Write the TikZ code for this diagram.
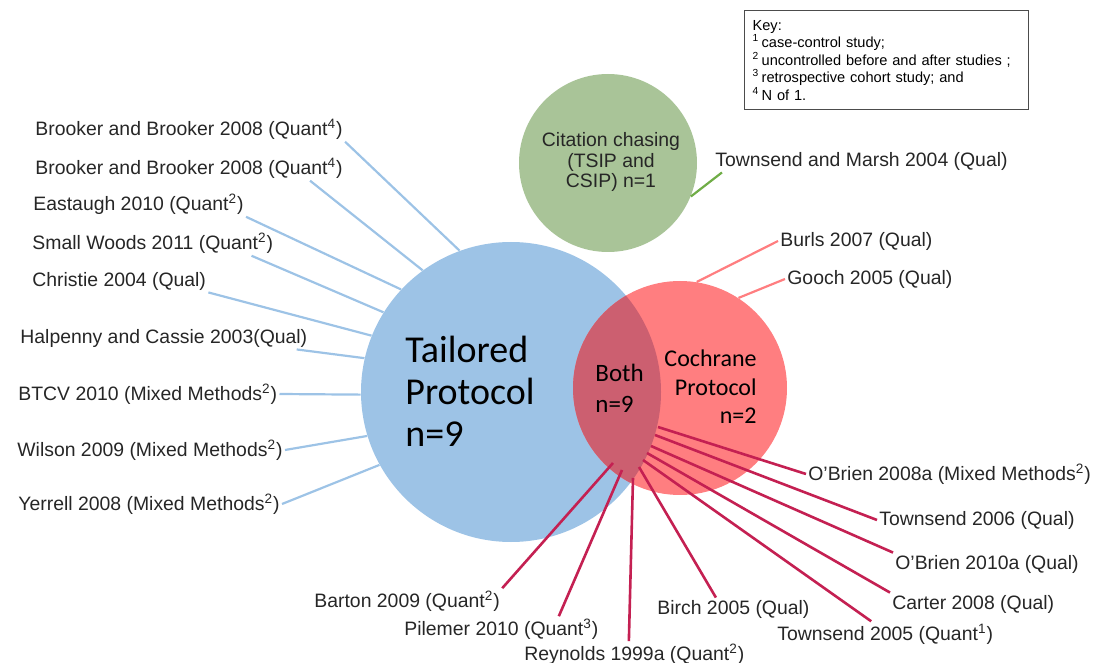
\documentclass[tikz,border=0pt]{standalone}
\usepackage{fontspec}
\setmainfont{Liberation Sans}
\newfontfamily\calibfont{Carlito}
\usepackage{xcolor}

\definecolor{tpblue}{RGB}{157,195,230}
\definecolor{cpred}{RGB}{255,126,128}
\definecolor{bothred}{RGB}{204,95,112}
\definecolor{ccgreen}{RGB}{169,196,152}
\definecolor{linkred}{RGB}{196,32,82}
\definecolor{linkgreen}{RGB}{112,173,71}

\tikzset{
  lbl/.style={inner sep=1pt, text=black!85, font=\fontsize{9.7}{11}\selectfont},
  venn/.style={circle, inner sep=0pt},
  tpline/.style={tpblue, line width=1.1pt},
  cpline/.style={cpred, line width=1.1pt},
  ccline/.style={linkgreen, line width=1.1pt},
  bothline/.style={linkred, line width=1.3pt},
  keybox/.style={draw=black!70, line width=0.6pt, align=left, text width=134pt,
    inner xsep=4pt, minimum height=49.5pt, font=\fontsize{7.3}{8.75}\selectfont}
}
\newcommand{\keysup}[1]{\textsuperscript{#1}\hspace{1.2pt}}

\begin{document}
\begin{tikzpicture}[x=0.5pt,y=-0.5pt]
  \useasboundingbox (0,0) rectangle (1099,663);

  % the three searches
  \node[venn, fill=ccgreen, minimum size=89pt] (cc) at (608,163) {};
  \node[venn, fill=tpblue, minimum size=150pt] (tp) at (511,392) {};
  \node[venn, fill=cpred, minimum size=107pt] (cp) at (680,388) {};
  % overlap: found by both protocols
  \begin{scope}
    \clip (tp.center) circle[radius=75pt];
    \fill[bothred] (cp.center) circle[radius=53.5pt];
  \end{scope}

  \node[align=left, anchor=west, inner sep=0pt, font=\calibfont\fontsize{19}{21}\selectfont] (tptext) at (405,391) {Tailored\\Protocol\\n=9};
  \node[align=left, anchor=west, inner sep=0pt, font=\calibfont\fontsize{12.5}{15.5}\selectfont] (bothtext) at (595,388) {Both\\n=9};
  \node[align=right, anchor=east, inner sep=0pt, font=\calibfont\fontsize{12}{14.3}\selectfont] (cptext) at (757,387) {Cochrane\\Protocol\\n=2};
  \node[lbl, align=center, font=\fontsize{9.7}{10.25}\selectfont] (cctext) at (611,162) {Citation chasing\\(TSIP and\\CSIP) n=1};

  % tailored protocol only
  \foreach \nm/\x/\y/\an/\dx/\ang/\txt in {
    l1/33/129/south east/0/110/{Brooker and Brooker 2008 (Quant\textsuperscript{4})},
    l2/33/168/south east/-17.5/126/{Brooker and Brooker 2008 (Quant\textsuperscript{4})},
    l3/31/204/south east/0/137/{Eastaugh 2010 (Quant\textsuperscript{2})},
    l4/30/243/south east/-12/148/{Small Woods 2011 (Quant\textsuperscript{2})},
    l5/30/281/south east/0/158/{Christie 2004 (Qual)},
    l6/18/338/south east/-6.5/167/{Halpenny and Cassie 2003(Qual)},
    l7/16/394/east/0/181/{BTCV 2010 (Mixed Methods\textsuperscript{2})},
    l8/15/450/east/0/197/{Wilson 2009 (Mixed Methods\textsuperscript{2})},
    l9/16/504/east/0/209/{Yerrell 2008 (Mixed Methods\textsuperscript{2})}}
  {
    \node[lbl, anchor=west] (\nm) at (\x,\y) {\txt};
    \draw[tpline] ([xshift=\dx pt]\nm.\an) -- (tp.\ang);
  }

  % cochrane protocol only
  \node[lbl, anchor=west] (burls) at (778,241) {Burls 2007 (Qual)};
  \node[lbl, anchor=west] (gooch) at (785,279) {Gooch 2005 (Qual)};
  \draw[cpline] (burls.west) -- (cp.81);
  \draw[cpline] (gooch.west) -- (cp.57);

  % citation chasing
  \node[lbl, anchor=west] (tm) at (713,161) {Townsend and Marsh 2004 (Qual)};
  \draw[ccline] ([xshift=4.5pt]tm.south west) -- (cc.-22);

  % both protocols
  \foreach \nm/\x/\y/\an/\dx/\px/\py/\txt in {
    ob8/806/474/west/0/658/427/{O’Brien 2008a (Mixed Methods\textsuperscript{2})},
    tw6/877/520/west/0/655/435/{Townsend 2006 (Qual)},
    ob10/893/564/north west/0/651/446/{O’Brien 2010a (Qual)},
    car/890/604/north west/0/647/453/{Carter 2008 (Qual)},
    tw5/775/634/north/-7/643/460/{Townsend 2005 (Quant\textsuperscript{1})},
    bir/655/609/north/-8.75/639/467/{Birch 2005 (Qual)},
    rey/522/654/north/-2.75/633/478/{Reynolds 1999a (Quant\textsuperscript{2})},
    pil/402/629/north east/-21/622/470/{Pilemer 2010 (Quant\textsuperscript{3})},
    bar/312/601/north east/0/613/463/{Barton 2009 (Quant\textsuperscript{2})}}
  {
    \node[lbl, anchor=west] (\nm) at (\x,\y) {\txt};
    \coordinate (\nm-in) at (\px,\py);
    \draw[bothline] ([xshift=\dx pt]\nm.\an) -- (\nm-in);
  }

  \node[keybox, anchor=north west] (key) at (744,10) {Key:\\
    \keysup{1}case-control study;\\
    \keysup{2}uncontrolled before and after studies ;\\
    \keysup{3}retrospective cohort study; and\\
    \keysup{4}N of 1.};
\end{tikzpicture}
\end{document}
